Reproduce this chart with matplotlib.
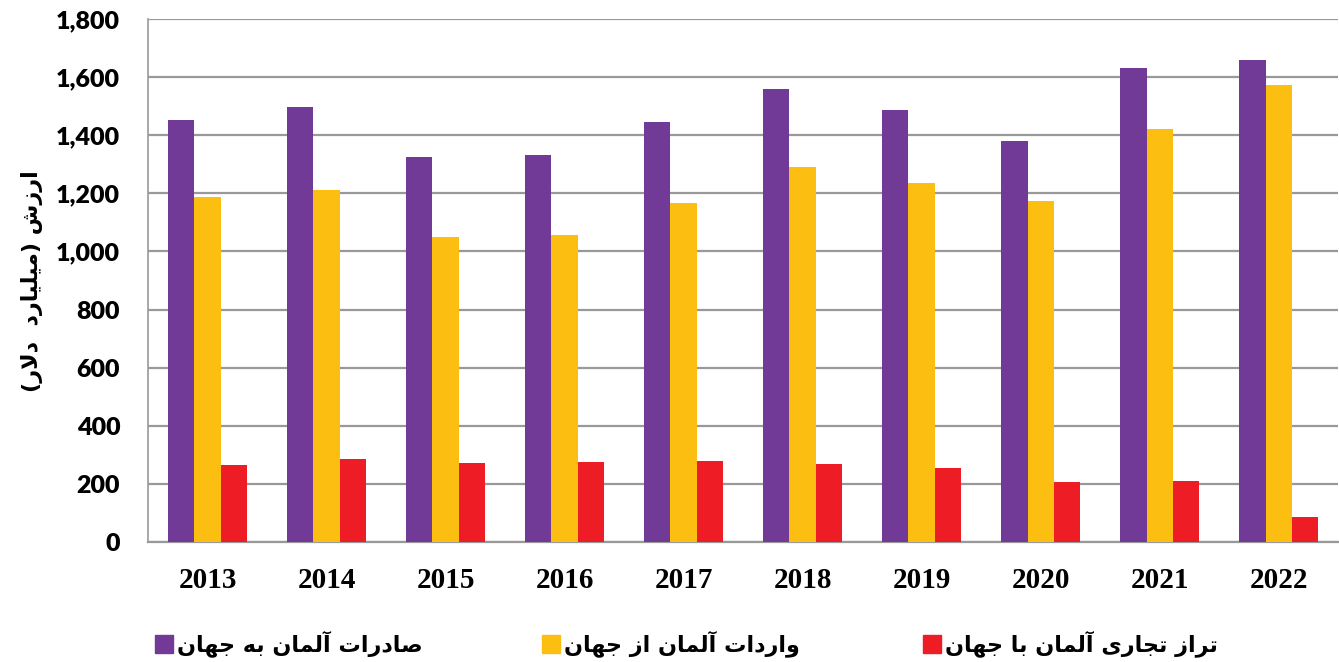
import matplotlib
matplotlib.use('Agg')
import matplotlib.pyplot as plt
import numpy as np
from matplotlib.patches import Rectangle

# Arabic letter forms: isolated, final, initial, medial (right-joining letters only have two)
FORMS = {
    'ا': ('\uFE8D', '\uFE8E'),
    'آ': ('\uFE81', '\uFE82'),
    'د': ('\uFEA9', '\uFEAA'),
    'ر': ('\uFEAD', '\uFEAE'),
    'ز': ('\uFEAF', '\uFEB0'),
    'و': ('\uFEED', '\uFEEE'),
    'ب': ('\uFE8F', '\uFE90', '\uFE91', '\uFE92'),
    'ت': ('\uFE95', '\uFE96', '\uFE97', '\uFE98'),
    'ج': ('\uFE9D', '\uFE9E', '\uFE9F', '\uFEA0'),
    'ش': ('\uFEB5', '\uFEB6', '\uFEB7', '\uFEB8'),
    'ص': ('\uFEB9', '\uFEBA', '\uFEBB', '\uFEBC'),
    'ل': ('\uFEDD', '\uFEDE', '\uFEDF', '\uFEE0'),
    'م': ('\uFEE1', '\uFEE2', '\uFEE3', '\uFEE4'),
    'ن': ('\uFEE5', '\uFEE6', '\uFEE7', '\uFEE8'),
    'ه': ('\uFEE9', '\uFEEA', '\uFEEB', '\uFEEC'),
    'ی': ('\uFBFC', '\uFBFD', '\uFBFE', '\uFBFF'),
}
LAM_ALEF = {'ا': ('\uFEFB', '\uFEFC'), 'آ': ('\uFEF5', '\uFEF6')}


def shape(text):
    # join letters and put them in visual (left to right) order
    out = []
    i = 0
    n = len(text)
    while i < n:
        c = text[i]
        if c not in FORMS:
            out.append(c)
            i += 1
            continue
        prev = text[i - 1] if i > 0 else ''
        joins_prev = prev in FORMS and len(FORMS[prev]) == 4
        if c == 'ل' and i + 1 < n and text[i + 1] in LAM_ALEF:
            lig = LAM_ALEF[text[i + 1]]
            out.append(lig[1] if joins_prev else lig[0])
            i += 2
            continue
        nxt = text[i + 1] if i + 1 < n else ''
        joins_next = len(FORMS[c]) == 4 and nxt in FORMS
        f = FORMS[c]
        if joins_prev and joins_next:
            g = f[3]
        elif joins_prev:
            g = f[1]
        elif joins_next:
            g = f[2]
        else:
            g = f[0]
        out.append(g)
        i += 1
    return ''.join(out)[::-1].translate(str.maketrans('()', ')('))


years = ['2013', '2014', '2015', '2016', '2017', '2018', '2019', '2020', '2021', '2022']
exports = [1451, 1498, 1325, 1331, 1445, 1558, 1488, 1380, 1632, 1659]
imports = [1186, 1213, 1051, 1057, 1165, 1289, 1235, 1175, 1422, 1573]
balance = [265, 285, 271, 274, 280, 269, 253, 205, 210, 86]

series_names = ['صادرات آلمان به جهان', 'واردات آلمان از جهان', 'تراز تجاری آلمان با جهان']
y_label = 'ارزش (میلیارد  دلار)'
colors = ['#703A96', '#FDBE12', '#EE1C24']

fig = plt.figure(figsize=(13.39, 6.62), dpi=100)
ax = fig.add_axes([0.1105, 0.1813, 0.889, 0.79])

x = np.arange(len(years))
w = 0.222
for k, vals in enumerate([exports, imports, balance]):
    ax.bar(x + (k - 1) * w, vals, w, color=colors[k], zorder=3)

ax.set_xlim(-0.5, 9.5)
ax.set_ylim(0, 1800)
ax.set_yticks(range(0, 1801, 200))
ax.set_yticklabels([f'{v:,}' for v in range(0, 1801, 200)],
                   fontfamily='Lato', fontweight='heavy', fontsize=18)
ax.set_xticks(x)
ax.set_xticklabels(years, fontfamily='Liberation Serif', fontweight='bold', fontsize=21)
ax.tick_params(axis='both', length=0)
ax.tick_params(axis='y', pad=20)
ax.tick_params(axis='x', pad=18)

ax.grid(axis='y', color='#999999', linewidth=1.6, zorder=0)
for s in ['top', 'right']:
    ax.spines[s].set_visible(False)
ax.spines['left'].set_color('#999999')
ax.spines['left'].set_linewidth(1.2)
ax.spines['bottom'].set_color('#999999')
ax.spines['bottom'].set_linewidth(1.6)

fig.text(0.024, 0.575, shape(y_label), rotation=90, ha='center', va='center',
         fontfamily='DejaVu Sans', fontweight='bold', fontsize=16)

# legend drawn by hand: square on the left of each label
W, H = 1339, 662
legend_x = [155, 542, 923]
for k in range(3):
    x0 = legend_x[k]
    fig.patches.append(Rectangle((x0 / W, (H - 653) / H), 18 / W, 18 / H,
                                 transform=fig.transFigure, color=colors[k]))
    fig.text((x0 + 22) / W, (H - 644) / H, shape(series_names[k]), ha='left', va='center',
             fontfamily='DejaVu Sans', fontweight='bold', fontsize=16)

fig.savefig('out.png', dpi=100)
